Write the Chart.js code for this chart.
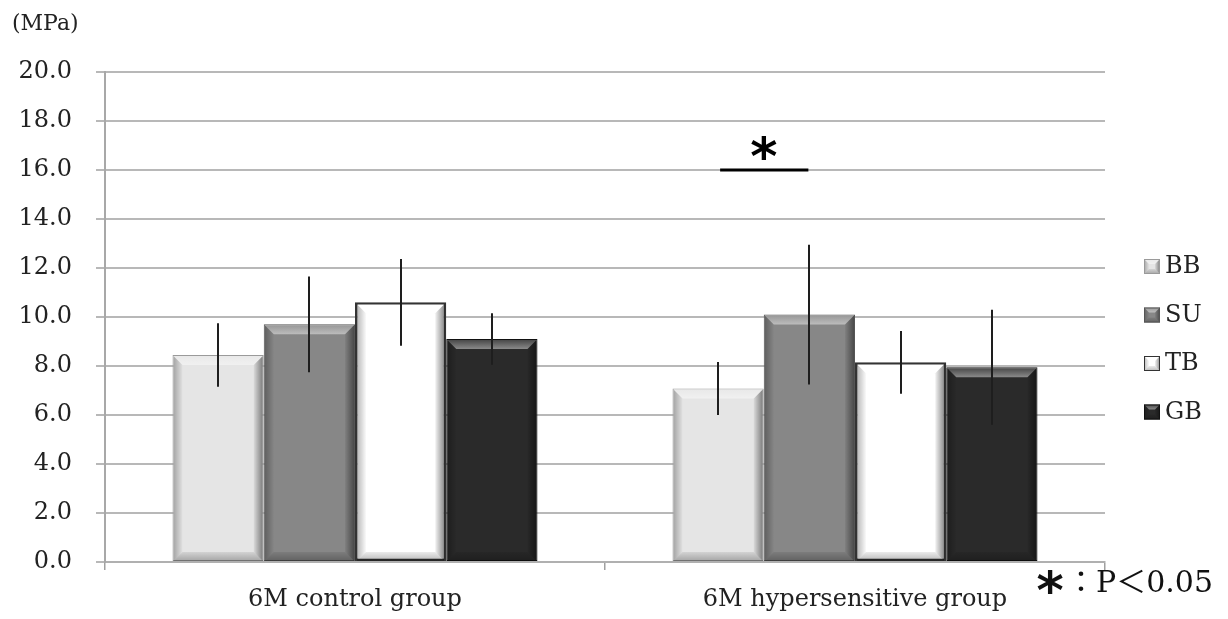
<!DOCTYPE html>
<html><head><meta charset="utf-8">
<script src="https://cdn.jsdelivr.net/npm/chart.js@4/dist/chart.umd.min.js"></script>
<style>html,body{margin:0;padding:0;background:#fff}#wrap{width:1228px;height:619px;position:relative}</style>
</head><body><div id="wrap"><canvas id="c" width="1228" height="619"></canvas></div>
<script>
const categories = ['6M control group', '6M hypersensitive group'];
const seriesNames = ['BB', 'SU', 'TB', 'GB'];
const bbMean = [8.45, 7.08];
const bbSD = [1.30, 1.08];
const suMean = [9.70, 10.10];
const suSD = [1.95, 2.85];
const tbMean = [10.60, 8.15];
const tbSD = [1.77, 1.28];
const gbMean = [9.10, 7.95];
const gbSD = [1.05, 2.35];
const yTicks = [0, 2, 4, 6, 8, 10, 12, 14, 16, 18, 20];
const sigLevel = 16.0;
const sigPair = [0, 1];      // dataset indices joined by the significance bar
const sigCategory = 1;       // category index
const unitLabel = '(MPa)';
const sigMark = '*';
const footnoteRest = '：P＜0.05';

const means = [bbMean, suMean, tbMean, gbMean];
const sds = [bbSD, suSD, tbSD, gbSD];
const faceColors = ['#e5e5e5', '#878787', '#ffffff', '#2a2a2a'];
const edgeColors = ['#9a9a9a', '#555555', '#333333', '#111111'];
const serif = "'DejaVu Serif', 'Noto Sans CJK JP', serif";

function poly(ctx, pts, fill) {
  ctx.beginPath();
  ctx.moveTo(pts[0][0], pts[0][1]);
  for (let i = 1; i < pts.length; i++) ctx.lineTo(pts[i][0], pts[i][1]);
  ctx.closePath();
  ctx.fillStyle = fill;
  ctx.fill();
}
function grad(ctx, x0, y0, x1, y1, c0, c1) {
  const g = ctx.createLinearGradient(x0, y0, x1, y1);
  g.addColorStop(0, c0); g.addColorStop(1, c1);
  return g;
}
function bevel(ctx, l, t, r, btm, b) {
  poly(ctx, [[l, t], [r, t], [r - b, t + b], [l + b, t + b]],
    grad(ctx, 0, t, 0, t + b, 'rgba(255,255,255,0.15)', 'rgba(255,255,255,0.45)'));
  poly(ctx, [[l, t], [l + b, t + b], [l + b, btm - b], [l, btm]],
    grad(ctx, l, 0, l + b, 0, 'rgba(0,0,0,0.28)', 'rgba(0,0,0,0.02)'));
  poly(ctx, [[r, t], [r, btm], [r - b, btm - b], [r - b, t + b]],
    grad(ctx, r - b, 0, r, 0, 'rgba(0,0,0,0.05)', 'rgba(0,0,0,0.45)'));
  poly(ctx, [[l, btm], [l + b, btm - b], [r - b, btm - b], [r, btm]],
    grad(ctx, 0, btm - b, 0, btm, 'rgba(0,0,0,0.08)', 'rgba(0,0,0,0.28)'));
}
function drawStar(ctx, cx, cy, size) {
  ctx.save();
  ctx.font = 'bold ' + size + "px 'DejaVu Sans'";
  ctx.textAlign = 'center';
  ctx.textBaseline = 'alphabetic';
  const m = ctx.measureText(sigMark);
  const yb = cy + (m.actualBoundingBoxAscent - m.actualBoundingBoxDescent) / 2;
  ctx.fillText(sigMark, cx, yb);
  ctx.restore();
}

const deco = {
  id: 'deco',
  afterDatasetsDraw(chart) {
    const ctx = chart.ctx;
    const ys = chart.scales.y;
    ctx.save();
    chart.data.datasets.forEach((ds, i) => {
      const meta = chart.getDatasetMeta(i);
      meta.data.forEach((bar) => {
        const p = bar.getProps(['x', 'y', 'base', 'width'], true);
        const inset = i === 2 ? 2 : 1;
        const l = p.x - p.width / 2 + inset, r = p.x + p.width / 2 - inset;
        const t = p.y + inset, btm = p.base;
        bevel(ctx, l, t, r, btm, 9);
      });
    });
    // error bars
    ctx.strokeStyle = '#1e1e1e';
    ctx.lineWidth = 2;
    chart.data.datasets.forEach((ds, i) => {
      const meta = chart.getDatasetMeta(i);
      meta.data.forEach((bar, j) => {
        const m = means[i][j], s = sds[i][j];
        const x = Math.round(bar.x);
        ctx.beginPath();
        ctx.moveTo(x, ys.getPixelForValue(m + s));
        ctx.lineTo(x, ys.getPixelForValue(m - s));
        ctx.stroke();
      });
    });
    // significance bar
    const a = chart.getDatasetMeta(sigPair[0]).data[sigCategory];
    const b = chart.getDatasetMeta(sigPair[1]).data[sigCategory];
    const sy = ys.getPixelForValue(sigLevel);
    ctx.strokeStyle = '#000';
    ctx.lineWidth = 3;
    ctx.beginPath();
    ctx.moveTo(a.x + 2, sy);
    ctx.lineTo(b.x - 1, sy);
    ctx.stroke();
    ctx.fillStyle = '#000';
    drawStar(ctx, (a.x + b.x) / 2, sy - 23, 52);
    ctx.restore();
  },
  afterDraw(chart) {
    const ctx = chart.ctx;
    const ca = chart.chartArea;
    ctx.save();
    ctx.fillStyle = '#222';
    ctx.font = '22px ' + serif;
    ctx.textAlign = 'left';
    ctx.textBaseline = 'middle';
    ctx.fillText(unitLabel, 12, 24);
    // legend
    seriesNames.forEach((n, i) => {
      const cy = 266 + i * 48.5;
      const lx = ca.right + 39;
      ctx.fillStyle = faceColors[i];
      ctx.fillRect(lx, cy - 7, 16, 15);
      bevel(ctx, lx, cy - 7, lx + 16, cy + 8, 5);
      ctx.strokeStyle = edgeColors[i];
      ctx.lineWidth = 1;
      ctx.strokeRect(lx + 0.5, cy - 6.5, 15, 14);
      ctx.fillStyle = '#222';
      ctx.font = '24px ' + serif;
      ctx.textAlign = 'left';
      ctx.textBaseline = 'middle';
      ctx.fillText(n, lx + 21, cy + 1);
    });
    // footnote
    ctx.fillStyle = '#111';
    drawStar(ctx, 1050, 581, 52);
    ctx.font = '30px ' + serif;
    ctx.textAlign = 'left';
    ctx.textBaseline = 'middle';
    ctx.fillText(footnoteRest, 1066, 584);
    ctx.restore();
  }
};

new Chart(document.getElementById('c'), {
  type: 'bar',
  data: {
    labels: categories,
    datasets: seriesNames.map((n, i) => ({
      label: n,
      data: means[i],
      backgroundColor: faceColors[i],
      borderColor: edgeColors[i],
      borderWidth: i === 2 ? 2.5 : 1,
      borderSkipped: false,
      categoryPercentage: 0.73,
      barPercentage: 1.0
    }))
  },
  options: {
    responsive: false,
    animation: false,
    devicePixelRatio: 1,
    layout: { padding: { top: 72, right: 123, left: 0, bottom: 0 } },
    plugins: { legend: { display: false }, tooltip: { enabled: false }, title: { display: false } },
    scales: {
      x: {
        afterFit(s) { s.height = 57; },
        grid: { offset: true, drawOnChartArea: false, drawTicks: true, tickLength: 8, color: '#a0a0a0', lineWidth: 1.5 },
        border: { display: true, color: '#b0b0b0', width: 2 },
        ticks: { font: { family: serif, size: 24 }, color: '#222', padding: 15 }
      },
      y: {
        min: 0, max: 20,
        afterFit(s) { s.width = 105; },
        afterBuildTicks(s) { s.ticks = yTicks.map(v => ({ value: v })); },
        grid: { color: '#b8b8b8', lineWidth: 2, tickLength: 9, drawTicks: true },
        border: { display: true, color: '#a8a8a8', width: 2 },
        ticks: { font: { family: serif, size: 24 }, color: '#222', padding: 24, callback: v => Number(v).toFixed(1) }
      }
    }
  },
  plugins: [deco]
});
</script></body></html>
